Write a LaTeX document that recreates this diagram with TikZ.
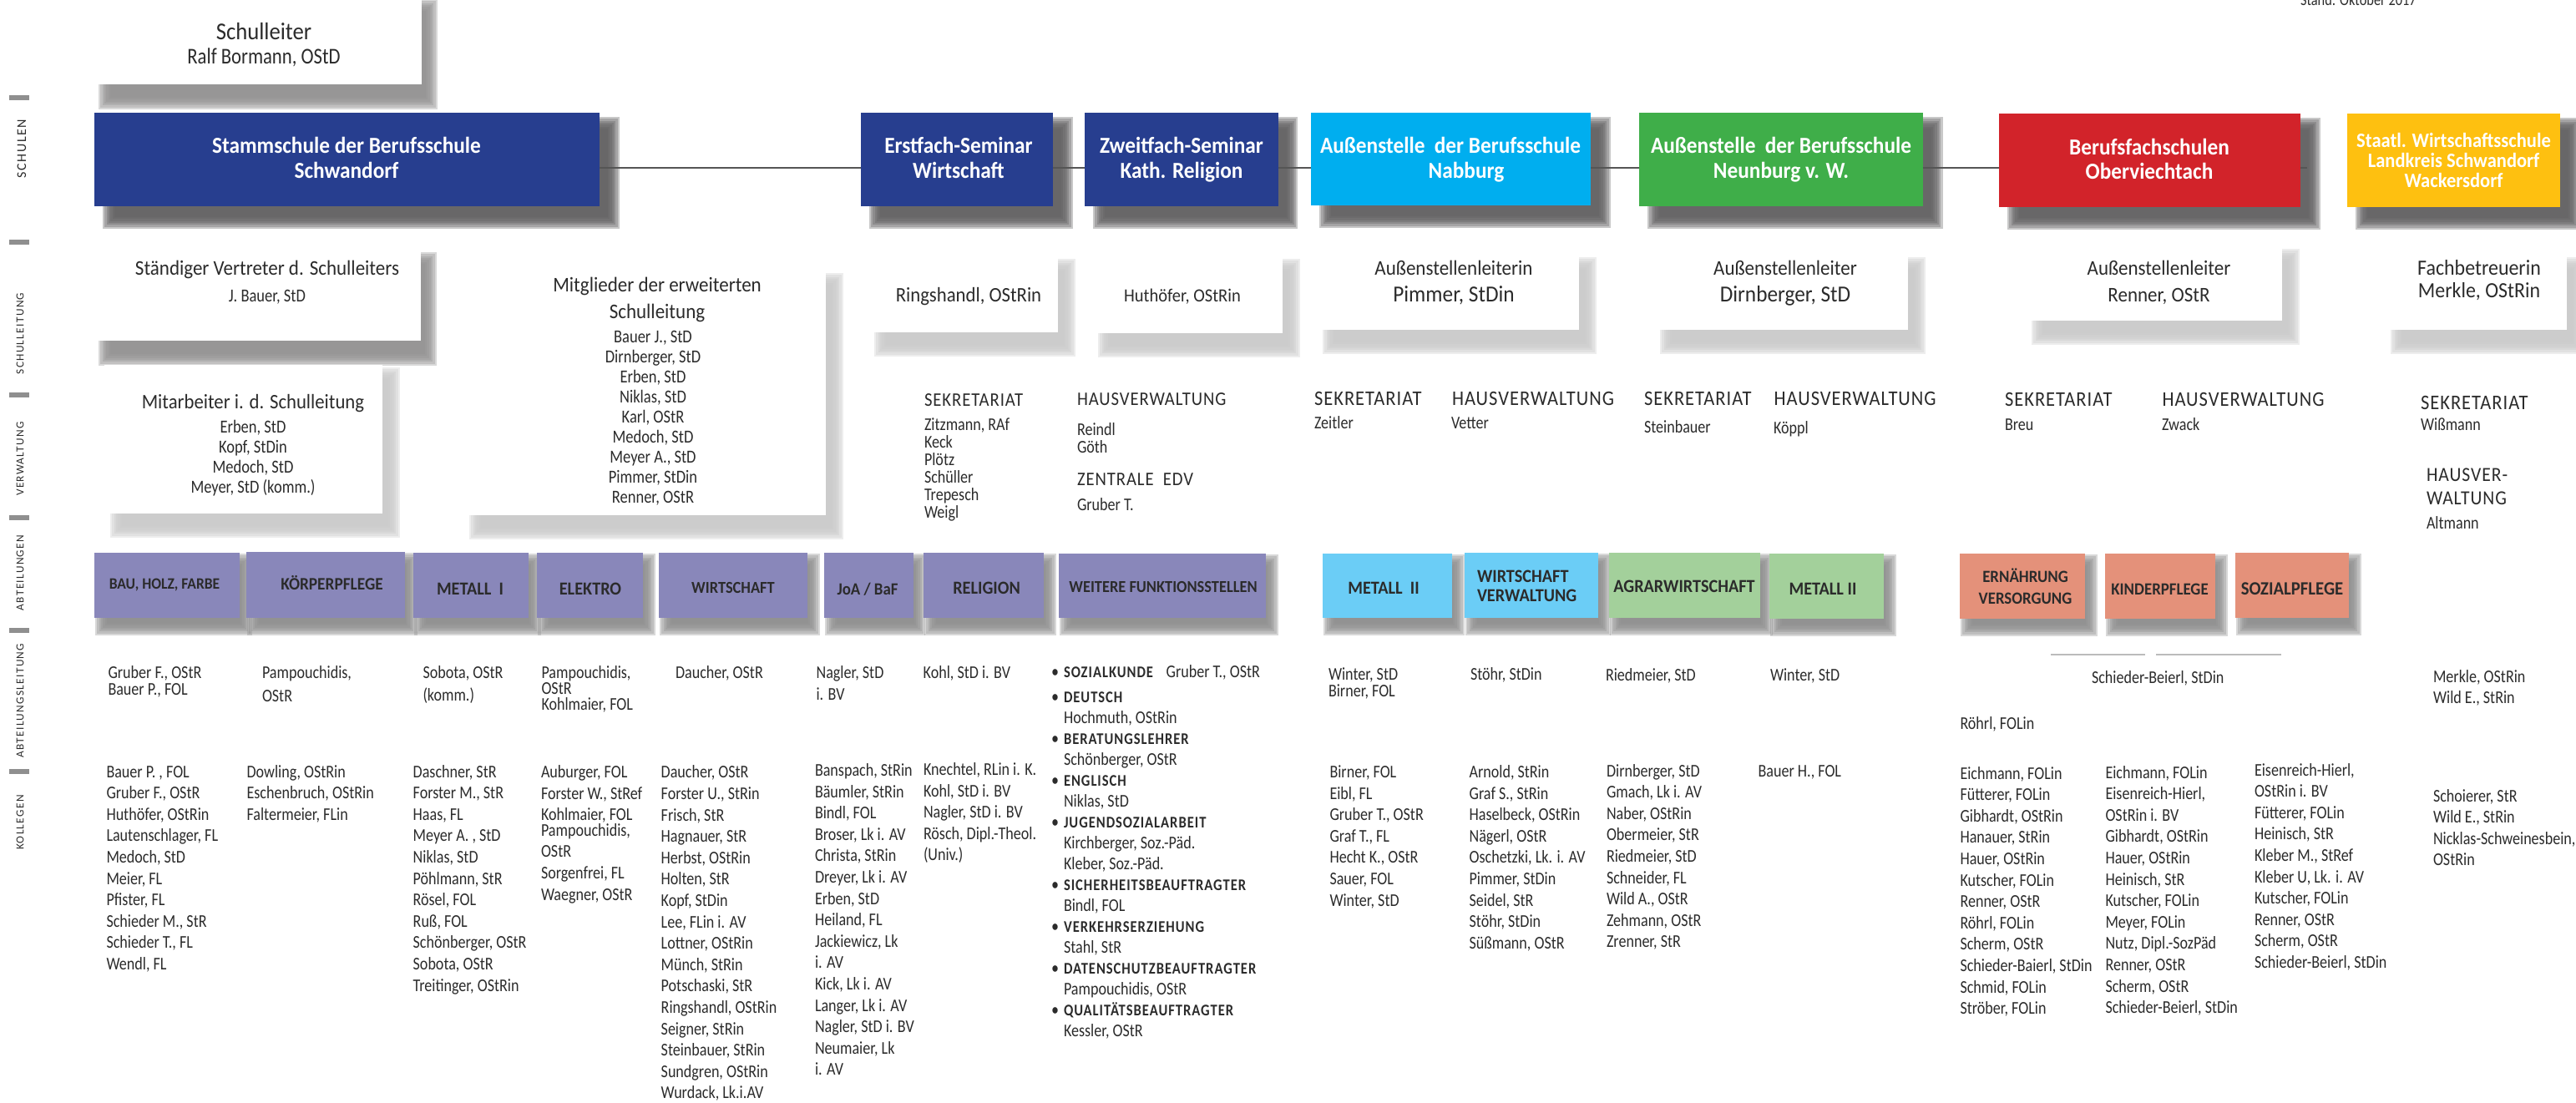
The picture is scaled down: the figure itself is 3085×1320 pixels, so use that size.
\documentclass[tikz,border=0pt]{standalone}
\usepackage{fontspec}
\setmainfont{Carlito}
\newfontfamily\bodyf[FakeStretch=.84]{Carlito}
\newfontfamily\capf[LetterSpace=4,FakeStretch=.9]{Carlito}
\newfontfamily\headf[LetterSpace=5,FakeStretch=.85]{Carlito}
\newfontfamily\sidef[LetterSpace=10]{Carlito}
\newfontfamily\boxf[FakeStretch=.92]{Carlito}
\definecolor{txt}{HTML}{2B2B2B}
\definecolor{darkblue}{HTML}{273E8F}
\definecolor{cyanbox}{HTML}{00AEEF}
\definecolor{greenbox}{HTML}{3FAE49}
\definecolor{redbox}{HTML}{D2232A}
\definecolor{yellowbox}{HTML}{FEC010}
\definecolor{purplebox}{HTML}{8987BA}
\definecolor{lightblue}{HTML}{6BCDF6}
\definecolor{lightgreen}{HTML}{A3D09B}
\definecolor{salmon}{HTML}{E4917A}
\definecolor{shdark}{HTML}{5F5E5F}
\definecolor{shmid}{HTML}{919090}
\definecolor{shlight}{HTML}{C9C9C9}
\definecolor{shrow}{HTML}{8C8C8C}
\definecolor{tick}{HTML}{8F8F8F}
\definecolor{rail}{HTML}{555555}
\definecolor{rulegray}{HTML}{BBBBBB}
\tikzset{
  boxnode/.style={rectangle,inner sep=0pt,outer sep=0pt,draw=none},
  tblock/.style={anchor=north west,align=left,inner sep=0pt,outer sep=0pt,text=txt},
  cblock/.style={anchor=north,align=center,inner sep=0pt,outer sep=0pt},
  railline/.style={draw=rail,line width=2.4pt},
  sidelabel/.style={rotate=90,inner sep=0pt,text=txt,font=\sidef\fontsize{13.3}{14}\selectfont},
  tickmark/.style={rectangle,fill=tick,minimum width=24pt,minimum height=6pt,inner sep=0pt},
}
\newcommand{\setshadow}[5]{\def\shc{#1}\def\sdx{#2}\def\sdt{#3}\def\sdb{#4}\def\sbl{#5}}
\newcommand{\cbox}[6]{%
  \foreach \i in {-3,...,3}{\fill[\shc,opacity=.34] ({#2+\sdx+\i*\sbl},{#3+\sdt+\i*\sbl}) rectangle ({#4+\sdx-\i*\sbl},{#5+\sdb-\i*\sbl});}
  \node[boxnode,fill=#6,minimum width={(#4-#2)*1pt},minimum height={(#5-#3)*1pt}] (#1) at ({(#2+#4)/2},{(#3+#5)/2}) {};}
\newcommand{\ctx}[6]{\node[cblock,font=#5] (#1) at (#2,{#3-11}) {\rule{0pt}{18pt}#6};}
\newcommand{\fsz}[2]{\fontsize{#1}{#2}\selectfont}
\newcommand{\tb}[5]{\node[tblock,font=\bodyf\fsz{21.5}{#4}] (#1) at (#2,{#3-8.5}) {\rule{0pt}{15pt}#5};}
\def\capsize{25}
\newcommand{\cp}[4]{\node[tblock,font=\capf\fsz{\capsize}{#3}] (#1) at (#2) {\rule{0pt}{15pt}#4};}
\newcommand{\hd}[1]{{\headf\bfseries\fontsize{19.5}{25}\selectfont #1}}
\newcommand{\bl}{\llap{\raisebox{0pt}{\textbullet}\hspace{6pt}}}
\begin{document}
\begin{tikzpicture}[x=1pt,y=-1pt]
\useasboundingbox (0,0) rectangle (3085,1320);
\node[tickmark] (t1) at (23,117) {};
\node[tickmark] (t2) at (23,290) {};
\node[tickmark] (t3) at (23,473) {};
\node[tickmark] (t4) at (23,620) {};
\node[tickmark] (t5) at (23,755) {};
\node[tickmark] (t6) at (23,924) {};
\node[sidelabel,font=\sidef\fontsize{16}{16}\selectfont] (s1) at (26,178) {SCHULEN};
\node[sidelabel] (s2) at (24,399.5) {SCHULLEITUNG};
\node[sidelabel] (s3) at (24,549.5) {VERWALTUNG};
\node[sidelabel] (s4) at (24,686) {ABTEILUNGEN};
\node[sidelabel] (s5) at (24,839) {ABTEILUNGSLEITUNG};
\node[sidelabel] (s6) at (24,985) {KOLLEGEN};
\setshadow{shmid}{12}{10}{23}{2.3}
\cbox{leiter}{113}{-4}{505}{101}{white}
\cbox{vertr}{113}{299}{504}{408}{white}
\setshadow{shlight}{14}{10}{22}{2.3}
\cbox{mitarb}{125}{437}{458}{615}{white}
\cbox{mitgl}{555}{324}{989}{617}{white}
\cbox{ring}{1040}{307}{1267}{398}{white}
\cbox{huth}{1308}{307}{1536}{399}{white}
\cbox{pimm}{1577}{305}{1891}{395}{white}
\cbox{dirn}{1981}{305}{2285}{395}{white}
\cbox{renn}{2426}{295}{2733}{384}{white}
\cbox{merk}{2856}{305}{3074}{395}{white}
\setshadow{shdark}{17}{12}{20}{2.3}
\cbox{stamm}{113}{135}{718}{247}{darkblue}
\cbox{erst}{1030.5}{135}{1261}{247}{darkblue}
\cbox{zweit}{1299}{135}{1530.5}{247}{darkblue}
\cbox{nab}{1570}{135}{1905}{246}{cyanbox}
\cbox{neun}{1963}{135}{2302.6}{247}{greenbox}
\cbox{beruf}{2394}{136}{2755}{248}{redbox}
\cbox{staatl}{2811}{136}{3066}{248}{yellowbox}
\coordinate (railY) at (0,201);
\coordinate (stub) at (2763,201);
\draw[railline] (stamm.east |- railY) -- (erst.west |- railY);
\draw[railline] (erst.east |- railY) -- (zweit.west |- railY);
\draw[railline] (zweit.east |- railY) -- (nab.west |- railY);
\draw[railline] (nab.east |- railY) -- (neun.west |- railY);
\draw[railline] (neun.east |- railY) -- (beruf.west |- railY);
\draw[railline] (beruf.east |- railY) -- (stub);
\setshadow{shrow}{8}{8}{14}{2.3}
\cbox{bau}{113}{662}{287}{740}{purplebox}
\cbox{koerp}{295}{661}{485}{740}{purplebox}
\cbox{met}{495}{662}{633}{740}{purplebox}
\cbox{elek}{643}{662}{770}{740}{purplebox}
\cbox{wirt}{789}{662}{967}{740}{purplebox}
\cbox{joa}{987}{662}{1093.5}{740}{purplebox}
\cbox{reli}{1106}{662}{1250}{740}{purplebox}
\cbox{weit}{1268}{663}{1516}{740}{purplebox}
\cbox{metb}{1583.5}{663}{1739}{740}{lightblue}
\cbox{wiver}{1754}{662}{1914}{740}{lightblue}
\cbox{agrar}{1926.5}{662}{2108}{740}{lightgreen}
\cbox{metc}{2119}{663}{2256}{741}{lightgreen}
\cbox{ernae}{2347}{663}{2497}{741}{salmon}
\cbox{kind}{2521}{663}{2653}{741}{salmon}
\cbox{sozi}{2677}{662}{2813}{740}{salmon}
\ctx{tleiter}{316}{38}{0}{\boxf\fsz{29}{29}\color{txt}}{Schulleiter}
\ctx{tleiter2}{316}{69}{0}{\bodyf\fsz{27}{27}\color{txt}}{Ralf Bormann, OStD}
\def\wf{\boxf\bfseries\fsz{27.5}{29.5}\color{white}}
\ctx{tstamm}{415}{175.5}{29}{\wf}{Stammschule der Berufsschule\\Schwandorf}
\ctx{terst}{1148}{175.5}{29}{\wf}{Erstfach-Seminar\\Wirtschaft}
\ctx{tzweit}{1415}{175.5}{29}{\wf}{Zweitfach-Seminar\\Kath. Religion}
\ctx{tnab}{1737}{175.5}{29}{\wf}{Außenstelle\ \ der Berufsschule\\\hspace*{38pt}Nabburg}
\ctx{tneun}{2133}{175.5}{29}{\wf}{Außenstelle\ \ der Berufsschule\\Neunburg v. W.}
\ctx{tberuf}{2574}{177}{29}{\wf}{Berufsfachschulen\\Oberviechtach}
\ctx{tstaatl}{2938.5}{169}{24}{\boxf\bfseries\fsz{24.5}{24}\color{white}}{Staatl. Wirtschaftsschule\\Landkreis Schwandorf\\Wackersdorf}
\node[tblock,font=\bodyf\fsz{19.5}{19.5}] (stand) at (2755,-7) {Stand: Oktober 2017};
\def\hf{\boxf\fsz{25}{32}\color{txt}}
\def\hsf{\boxf\fsz{24.7}{32}\color{txt}}
\def\hhf{\boxf\fsz{22.3}{32}\color{txt}}
\def\hbf{\boxf\fsz{27.5}{32}}
\def\nf{\bodyf\fsz{22}{24}\color{txt}}
\ctx{tvertr}{320}{322}{0}{\hf}{Ständiger Vertreter d. Schulleiters}
\ctx{tvertr2}{320}{354}{0}{\nf}{J. Bauer, StD}
\ctx{tmita}{303}{482}{0}{\hsf}{Mitarbeiter i. d. Schulleitung}
\ctx{tmita2}{303}{511.5}{24}{\nf}{Erben, StD\\Kopf, StDin\\Medoch, StD\\Meyer, StD (komm.)}
\ctx{tmitg}{787}{342}{32}{\hf}{Mitglieder der erweiterten\\Schulleitung}
\ctx{tmitg2}{782}{403.5}{24}{\nf}{Bauer J., StD\\Dirnberger, StD\\Erben, StD\\Niklas, StD\\Karl, OStR\\Medoch, StD\\Meyer A., StD\\Pimmer, StDin\\Renner, OStR}
\ctx{tring}{1160}{354}{0}{\hsf}{Ringshandl, OStRin}
\ctx{thuth}{1416}{354}{0}{\hhf}{Huthöfer, OStRin}
\ctx{tpimm}{1741}{322}{32}{\hf}{Außenstellenleiterin\\\hbf Pimmer, StDin}
\ctx{tdirn}{2138}{322}{32}{\hf}{Außenstellenleiter\\\hbf Dirnberger, StD}
\ctx{trenn}{2585.5}{322}{32}{\hf}{Außenstellenleiter\\Renner, OStR}
\ctx{tmerk}{2969}{322}{27}{\boxf\fsz{26}{27}\color{txt}}{Fachbetreuerin\\Merkle, OStRin}
\def\capsize{23}
\coordinate (c1) at (1107,471.5);
\cp{v1}{c1}{21}{SEKRETARIAT}
\tb{v1n}{1107}{508.6}{21}{Zitzmann, RAf\\Keck\\Plötz\\Schüller\\Trepesch\\Weigl}
\coordinate (c2) at (1290,470.5);
\cp{v2}{c2}{21}{HAUSVERWALTUNG}
\tb{v2n}{1290}{514.5}{21}{Reindl\\Göth}
\coordinate (c3) at (1290,566.5);
\cp{v3}{c3}{21}{ZENTRALE\ \ EDV}
\tb{v3n}{1290}{604.6}{21}{Gruber T.}
\def\capsize{25}
\coordinate (c4) at (1574,469);
\cp{v4}{c4}{21}{SEKRETARIAT}
\tb{v4n}{1574}{507}{21}{Zeitler}
\coordinate (c5) at (1739,469);
\cp{v5}{c5}{21}{HAUSVERWALTUNG}
\tb{v5n}{1738}{507}{21}{Vetter}
\coordinate (c6) at (1969,469);
\cp{v6}{c6}{21}{SEKRETARIAT}
\tb{v6n}{1969}{511.5}{21}{Steinbauer}
\coordinate (c7) at (2124.6,469);
\cp{v7}{c7}{21}{HAUSVERWALTUNG}
\tb{v7n}{2124}{513}{21}{Köppl}
\coordinate (c8) at (2401,470.5);
\cp{v8}{c8}{21}{SEKRETARIAT}
\tb{v8n}{2401}{509}{21}{Breu}
\coordinate (c9) at (2589.5,470.5);
\cp{v9}{c9}{21}{HAUSVERWALTUNG}
\tb{v9n}{2589}{509}{21}{Zwack}
\coordinate (c10) at (2899,474.5);
\cp{v10}{c10}{21}{SEKRETARIAT}
\tb{v10n}{2899}{509}{21}{Wißmann}
\def\capsize{24}
\coordinate (c11) at (2906,560.5);
\cp{v11}{c11}{28}{HAUSVER-\\WALTUNG}
\tb{v11n}{2906}{627}{21}{Altmann}
\def\df{\boxf\bfseries\color{txt}}
\ctx{dbau}{197}{698}{0}{\df\fsz{19}{24}}{BAU, HOLZ, FARBE}
\ctx{dkoerp}{397.5}{699}{0}{\df\fsz{21}{24}}{KÖRPERPFLEGE}
\ctx{dmet}{563}{705.5}{0}{\df\fsz{22}{24}}{METALL\ \ I}
\ctx{delek}{707}{705}{0}{\df\fsz{22}{24}}{ELEKTRO}
\ctx{dwirt}{878}{703}{0}{\df\fsz{20}{24}}{WIRTSCHAFT}
\ctx{djoa}{1039}{705.5}{0}{\df\fsz{20.5}{24}}{JoA / BaF}
\ctx{dreli}{1181.6}{704.6}{0}{\df\fsz{22}{24}}{RELIGION}
\ctx{dweit}{1393}{702}{0}{\df\fsz{20}{24}}{WEITERE FUNKTIONSSTELLEN}
\ctx{dmetb}{1657}{704.6}{0}{\df\fsz{22}{24}}{METALL\ \ II}
\node[tblock,font=\df\fsz{22}{23}] (dwiver) at (1769,679) {\rule{0pt}{18pt}WIRTSCHAFT\\VERWALTUNG};
\ctx{dagrar}{2017}{702.5}{0}{\df\fsz{22}{24}}{AGRARWIRTSCHAFT}
\ctx{dmetc}{2183}{705.5}{0}{\df\fsz{22}{24}}{METALL II}
\ctx{dernae}{2425.5}{690.6}{25.4}{\df\fsz{20.5}{25.4}}{ERNÄHRUNG\\VERSORGUNG}
\ctx{dkind}{2586.5}{705.5}{0}{\df\fsz{20.5}{24}}{KINDERPFLEGE}
\ctx{dsozi}{2745}{705.5}{0}{\df\fsz{22.5}{24}}{SOZIALPFLEGE}
\tb{h1}{129.5}{806}{19.5}{Gruber F., OStR\\Bauer P., FOL}
\tb{h2}{314}{806}{27.6}{Pampouchidis,\\OStR}
\tb{h3}{506.5}{806}{27}{Sobota, OStR\\(komm.)}
\tb{h4}{648.5}{806}{19}{Pampouchidis,\\OStR\\Kohlmaier, FOL}
\tb{h5}{809}{806}{19}{Daucher, OStR}
\tb{h6}{977.6}{806}{26}{Nagler, StD\\i. BV}
\tb{h7}{1105.7}{806}{19}{Kohl, StD i. BV}
\node[tblock,font=\bodyf\fsz{21.5}{25}] (h8a) at (1274,{805-8.5}) {\rule{0pt}{15pt}\bl\hd{SOZIALKUNDE}};
\tb{h8b}{1396.6}{804.6}{25}{Gruber T., OStR}
\node[tblock,font=\bodyf\fsz{21.5}{25}] (h8c) at (1274,{834.5-8.5}) {\rule{0pt}{15pt}\bl\hd{DEUTSCH}\\Hochmuth, OStRin\\\bl\hd{BERATUNGSLEHRER}\\Schönberger, OStR\\\bl\hd{ENGLISCH}\\Niklas, StD\\\bl\hd{JUGENDSOZIALARBEIT}\\Kirchberger, Soz.-Päd.\\Kleber, Soz.-Päd.\\\bl\hd{SICHERHEITSBEAUFTRAGTER}\\Bindl, FOL\\\bl\hd{VERKEHRSERZIEHUNG}\\Stahl, StR\\\bl\hd{DATENSCHUTZBEAUFTRAGTER}\\Pampouchidis, OStR\\\bl\hd{QUALITÄTSBEAUFTRAGTER}\\Kessler, OStR};
\tb{h9}{1591}{808}{19.6}{Winter, StD\\Birner, FOL}
\tb{h10}{1761}{808}{19}{Stöhr, StDin}
\tb{h11}{1923}{809}{19}{Riedmeier, StD}
\tb{h12}{2120}{809}{19}{Winter, StD}
\coordinate (rl1) at (2456,784);
\coordinate (rl2) at (2569,784);
\coordinate (rl3) at (2582,784);
\coordinate (rl4) at (2732,784);
\draw[rulegray,line width=2pt] (rl1) -- (rl2);
\draw[rulegray,line width=2pt] (rl3) -- (rl4);
\tb{h13}{2505}{811.5}{19}{Schieder-Beierl, StDin}
\tb{h14}{2347.5}{867}{19}{Röhrl, FOLin}
\tb{h15}{2914}{810.6}{25}{Merkle, OStRin\\Wild E., StRin}
\tb{k1}{127.5}{924.6}{25.6}{Bauer P. , FOL\\Gruber F., OStR\\Huthöfer, OStRin\\Lautenschlager, FL\\Medoch, StD\\Meier, FL\\Pfister, FL\\Schieder M., StR\\Schieder T., FL\\Wendl, FL}
\tb{k2}{295.6}{924.6}{25.6}{Dowling, OStRin\\Eschenbruch, OStRin\\Faltermeier, FLin}
\tb{k3}{494.7}{924.6}{25.6}{Daschner, StR\\Forster M., StR\\Haas, FL\\Meyer A. , StD\\Niklas, StD\\Pöhlmann, StR\\Rösel, FOL\\Ruß, FOL\\Schönberger, OStR\\Sobota, OStR\\Treitinger, OStRin}
\tb{k4}{648}{925}{25.6}{Auburger, FOL\\Forster W., StRef\\Kohlmaier, FOL\\[-7pt]Pampouchidis,\\OStR\\Sorgenfrei, FL\\Waegner, OStR}
\tb{k5}{791.7}{925.4}{25.6}{Daucher, OStR\\Forster U., StRin\\Frisch, StR\\Hagnauer, StR\\Herbst, OStRin\\Holten, StR\\Kopf, StDin\\Lee, FLin i. AV\\Lottner, OStRin\\Münch, StRin\\Potschaski, StR\\Ringshandl, OStRin\\Seigner, StRin\\Steinbauer, StRin\\Sundgren, OStRin\\Wurdack, Lk.i.AV}
\tb{k6}{976}{923}{25.6}{Banspach, StRin\\Bäumler, StRin\\Bindl, FOL\\Broser, Lk i. AV\\Christa, StRin\\Dreyer, Lk i. AV\\Erben, StD\\Heiland, FL\\Jackiewicz, Lk\\i. AV\\Kick, Lk i. AV\\Langer, Lk i. AV\\Nagler, StD i. BV\\Neumaier, Lk\\i. AV}
\tb{k7}{1106}{922}{25.6}{Knechtel, RLin i. K.\\Kohl, StD i. BV\\Nagler, StD i. BV\\Rösch, Dipl.-Theol.\\(Univ.)}
\tb{k8}{1592.5}{925}{25.6}{Birner, FOL\\Eibl, FL\\Gruber T., OStR\\Graf T., FL\\Hecht K., OStR\\Sauer, FOL\\Winter, StD}
\tb{k9}{1759.6}{925}{25.6}{Arnold, StRin\\Graf S., StRin\\Haselbeck, OStRin\\Nägerl, OStR\\Oschetzki, Lk. i. AV\\Pimmer, StDin\\Seidel, StR\\Stöhr, StDin\\Süßmann, OStR}
\tb{k10}{1924}{923.5}{25.6}{Dirnberger, StD\\Gmach, Lk i. AV\\Naber, OStRin\\Obermeier, StR\\Riedmeier, StD\\Schneider, FL\\Wild A., OStR\\Zehmann, OStR\\Zrenner, StR}
\tb{k11}{2105.6}{923.5}{25.6}{Bauer H., FOL}
\tb{k12}{2347.5}{926.5}{25.6}{Eichmann, FOLin\\Fütterer, FOLin\\Gibhardt, OStRin\\Hanauer, StRin\\Hauer, OStRin\\Kutscher, FOLin\\Renner, OStR\\Röhrl, FOLin\\Scherm, OStR\\Schieder-Baierl, StDin\\Schmid, FOLin\\Ströber, FOLin}
\tb{k13}{2521.5}{925.6}{25.6}{Eichmann, FOLin\\Eisenreich-Hierl,\\OStRin i. BV\\Gibhardt, OStRin\\Hauer, OStRin\\Heinisch, StR\\Kutscher, FOLin\\Meyer, FOLin\\Nutz, Dipl.-SozPäd\\Renner, OStR\\Scherm, OStR\\Schieder-Beierl, StDin}
\tb{k14}{2700}{922.5}{25.6}{Eisenreich-Hierl,\\OStRin i. BV\\Fütterer, FOLin\\Heinisch, StR\\Kleber M., StRef\\Kleber U, Lk. i. AV\\Kutscher, FOLin\\Renner, OStR\\Scherm, OStR\\Schieder-Beierl, StDin}
\tb{k15}{2914}{953.5}{25.6}{Schoierer, StR\\Wild E., StRin\\Nicklas-Schweinesbein,\\OStRin}
\end{tikzpicture}
\end{document}
